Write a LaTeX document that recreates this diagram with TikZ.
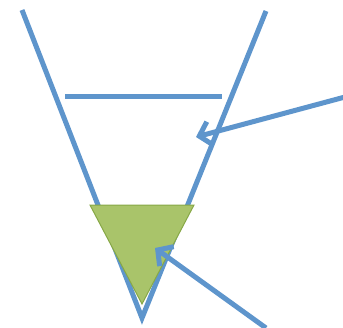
\documentclass[tikz,border=0pt]{standalone}
\usetikzlibrary{arrows.meta}

\definecolor{lineblue}{RGB}{94,149,204}
\definecolor{solidgreen}{RGB}{169,196,106}
\definecolor{edgegreen}{RGB}{135,168,70}

\begin{document}
\begin{tikzpicture}[
  x=1pt, y=-1pt,
  wall/.style={draw=lineblue, line width=5pt},
  pointer/.style={wall, -{Straight Barb[length=11pt, width=24pt]}},
  solid/.style={fill=solidgreen, draw=edgegreen, line width=1pt, line join=miter},
]
\useasboundingbox (0,0) rectangle (343,327);

% vessel walls
\coordinate (topL)  at (22,10);
\coordinate (topR)  at (266,11);
\coordinate (tip)   at (142,318);
\draw[wall] (topL) -- (tip) -- (topR);

% liquid level
\coordinate (levelL) at (65,96);
\coordinate (levelR) at (222,96);
\draw[wall] (levelL) -- (levelR);

% settled solid
\coordinate (solidL) at (90,205);
\coordinate (solidR) at (194,205);
\coordinate (solidB) at (142,304);
\draw[solid] (solidL) -- (solidR) -- (solidB) -- cycle;

% pointers
\coordinate (fromA) at (345,97);
\coordinate (toA)   at (196,137);
\draw[pointer] (fromA) -- (toA);

\coordinate (fromB) at (266,328);
\coordinate (toB)   at (155,248);
\draw[pointer] (fromB) -- (toB);

\end{tikzpicture}
\end{document}
